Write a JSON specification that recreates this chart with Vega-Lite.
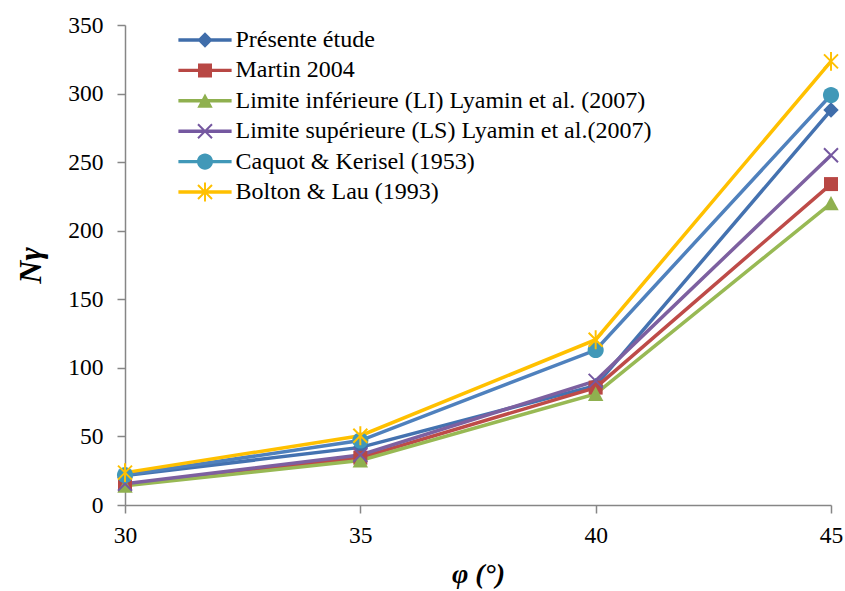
{
  "$schema": "https://vega.github.io/schema/vega-lite/v6.json",
  "width": 706,
  "height": 480,
  "autosize": "none",
  "padding": {"left": 125, "top": 25, "right": 14, "bottom": 86},
  "background": "white",
  "config": {
    "view": {"stroke": null},
    "axis": {
      "labelFont": "Liberation Serif",
      "labelFontSize": 23.5,
      "labelColor": "#000000",
      "labelFlush": false,
      "domainColor": "#868686",
      "domainWidth": 1.5,
      "tickColor": "#868686",
      "tickWidth": 1.5,
      "tickSize": 8,
      "grid": false,
      "titleFont": "Liberation Serif",
      "titleColor": "#000000"
    },
    "legend": {
      "labelFont": "Liberation Serif",
      "labelFontSize": 24,
      "labelColor": "#000000",
      "labelLimit": 700
    }
  },
  "data": {
    "values": [
      {"series": "Présente étude", "phi": 30, "N": 21.5},
      {"series": "Présente étude", "phi": 35, "N": 42},
      {"series": "Présente étude", "phi": 40, "N": 87},
      {"series": "Présente étude", "phi": 45, "N": 288},
      {"series": "Martin 2004", "phi": 30, "N": 14.75},
      {"series": "Martin 2004", "phi": 35, "N": 34.5},
      {"series": "Martin 2004", "phi": 40, "N": 85.6},
      {"series": "Martin 2004", "phi": 45, "N": 234},
      {"series": "Limite inférieure (LI) Lyamin et al. (2007)", "phi": 30, "N": 14},
      {"series": "Limite inférieure (LI) Lyamin et al. (2007)", "phi": 35, "N": 32.5},
      {"series": "Limite inférieure (LI) Lyamin et al. (2007)", "phi": 40, "N": 81},
      {"series": "Limite inférieure (LI) Lyamin et al. (2007)", "phi": 45, "N": 220},
      {"series": "Limite supérieure (LS) Lyamin et al.(2007)", "phi": 30, "N": 15.5},
      {"series": "Limite supérieure (LS) Lyamin et al.(2007)", "phi": 35, "N": 36.5},
      {"series": "Limite supérieure (LS) Lyamin et al.(2007)", "phi": 40, "N": 90.5},
      {"series": "Limite supérieure (LS) Lyamin et al.(2007)", "phi": 45, "N": 255},
      {"series": "Caquot & Kerisel (1953)", "phi": 30, "N": 21.8},
      {"series": "Caquot & Kerisel (1953)", "phi": 35, "N": 47},
      {"series": "Caquot & Kerisel (1953)", "phi": 40, "N": 113},
      {"series": "Caquot & Kerisel (1953)", "phi": 45, "N": 299},
      {"series": "Bolton & Lau (1993)", "phi": 30, "N": 23.6},
      {"series": "Bolton & Lau (1993)", "phi": 35, "N": 50.5},
      {"series": "Bolton & Lau (1993)", "phi": 40, "N": 120.5},
      {"series": "Bolton & Lau (1993)", "phi": 45, "N": 323.5}
    ]
  },
  "encoding": {
    "x": {
      "field": "phi",
      "type": "quantitative",
      "scale": {"domain": [30, 45], "nice": false, "zero": false},
      "axis": {
        "values": [30, 35, 40, 45],
        "labelPadding": 10,
        "title": "φ (°)",
        "titleFontSize": 28,
        "titleFontWeight": "bold",
        "titleFontStyle": "italic",
        "titlePadding": 14
      }
    },
    "y": {
      "field": "N",
      "type": "quantitative",
      "scale": {"domain": [0, 350], "nice": false},
      "axis": {
        "values": [0, 50, 100, 150, 200, 250, 300, 350],
        "labelPadding": 14,
        "title": "Nγ",
        "titleFontSize": 32,
        "titleFontWeight": "bold",
        "titleFontStyle": "italic",
        "titlePadding": 20
      }
    }
  },
  "layer": [
    {
      "mark": {"type": "line", "strokeWidth": 3.5},
      "encoding": {
        "stroke": {
          "field": "series",
          "type": "nominal",
          "scale": {
            "domain": ["Présente étude", "Martin 2004", "Limite inférieure (LI) Lyamin et al. (2007)", "Limite supérieure (LS) Lyamin et al.(2007)", "Caquot & Kerisel (1953)", "Bolton & Lau (1993)"],
            "range": ["#4472B0", "#BE4B48", "#98B954", "#7D60A0", "#4F81BD", "#FFC000"]
          },
          "legend": {
            "orient": "none",
            "legendX": 68,
            "legendY": 3,
            "title": null,
            "padding": 0,
            "symbolSize": 196,
            "labelOffset": 18.5,
            "rowPadding": 6.4,
            "encoding": {
              "symbols": {
                "shape": {"value": {"expr": "'M-3.8,-0.24H3.8V0.24H-3.8Z ' + scale('shape', datum.value)"}},
                "fill": {"value": {"expr": "scale('fill', datum.value)"}},
                "fillOpacity": {"value": 1},
                "strokeWidth": {"value": 0}
              }
            }
          }
        },
        "detail": {"field": "series"}
      }
    },
    {
      "mark": {"type": "point", "filled": true, "size": 196, "opacity": 1},
      "encoding": {
        "fill": {
          "field": "series",
          "type": "nominal",
          "scale": {
            "range": ["#FFC000", "#4198B8", "#8FB04F", "#7558A0", "#B84744", "#3F6DAA"]
          },
          "legend": null
        },
        "shape": {
          "field": "series",
          "type": "nominal",
          "scale": {
            "range": [
              "M-0.9,-1.1L1.1,0.9L0.9,1.1L-1.1,-0.9Z M-1.1,0.9L0.9,-1.1L1.1,-0.9L-0.9,1.1Z M-0.14,-1.35H0.14V1.35H-0.14Z",
              "M-1.15,0A1.15,1.15,0,1,1,1.15,0A1.15,1.15,0,1,1,-1.15,0Z",
              "M0,-1.05L1.1,1H-1.1Z",
              "M-0.9,-1.1L1.1,0.9L0.9,1.1L-1.1,-0.9Z M-1.1,0.9L0.9,-1.1L1.1,-0.9L-0.9,1.1Z",
              "M-1,-1H1V1H-1Z",
              "M0,-1.1L1.1,0L0,1.1L-1.1,0Z"
            ]
          },
          "legend": null
        }
      }
    }
  ]
}
